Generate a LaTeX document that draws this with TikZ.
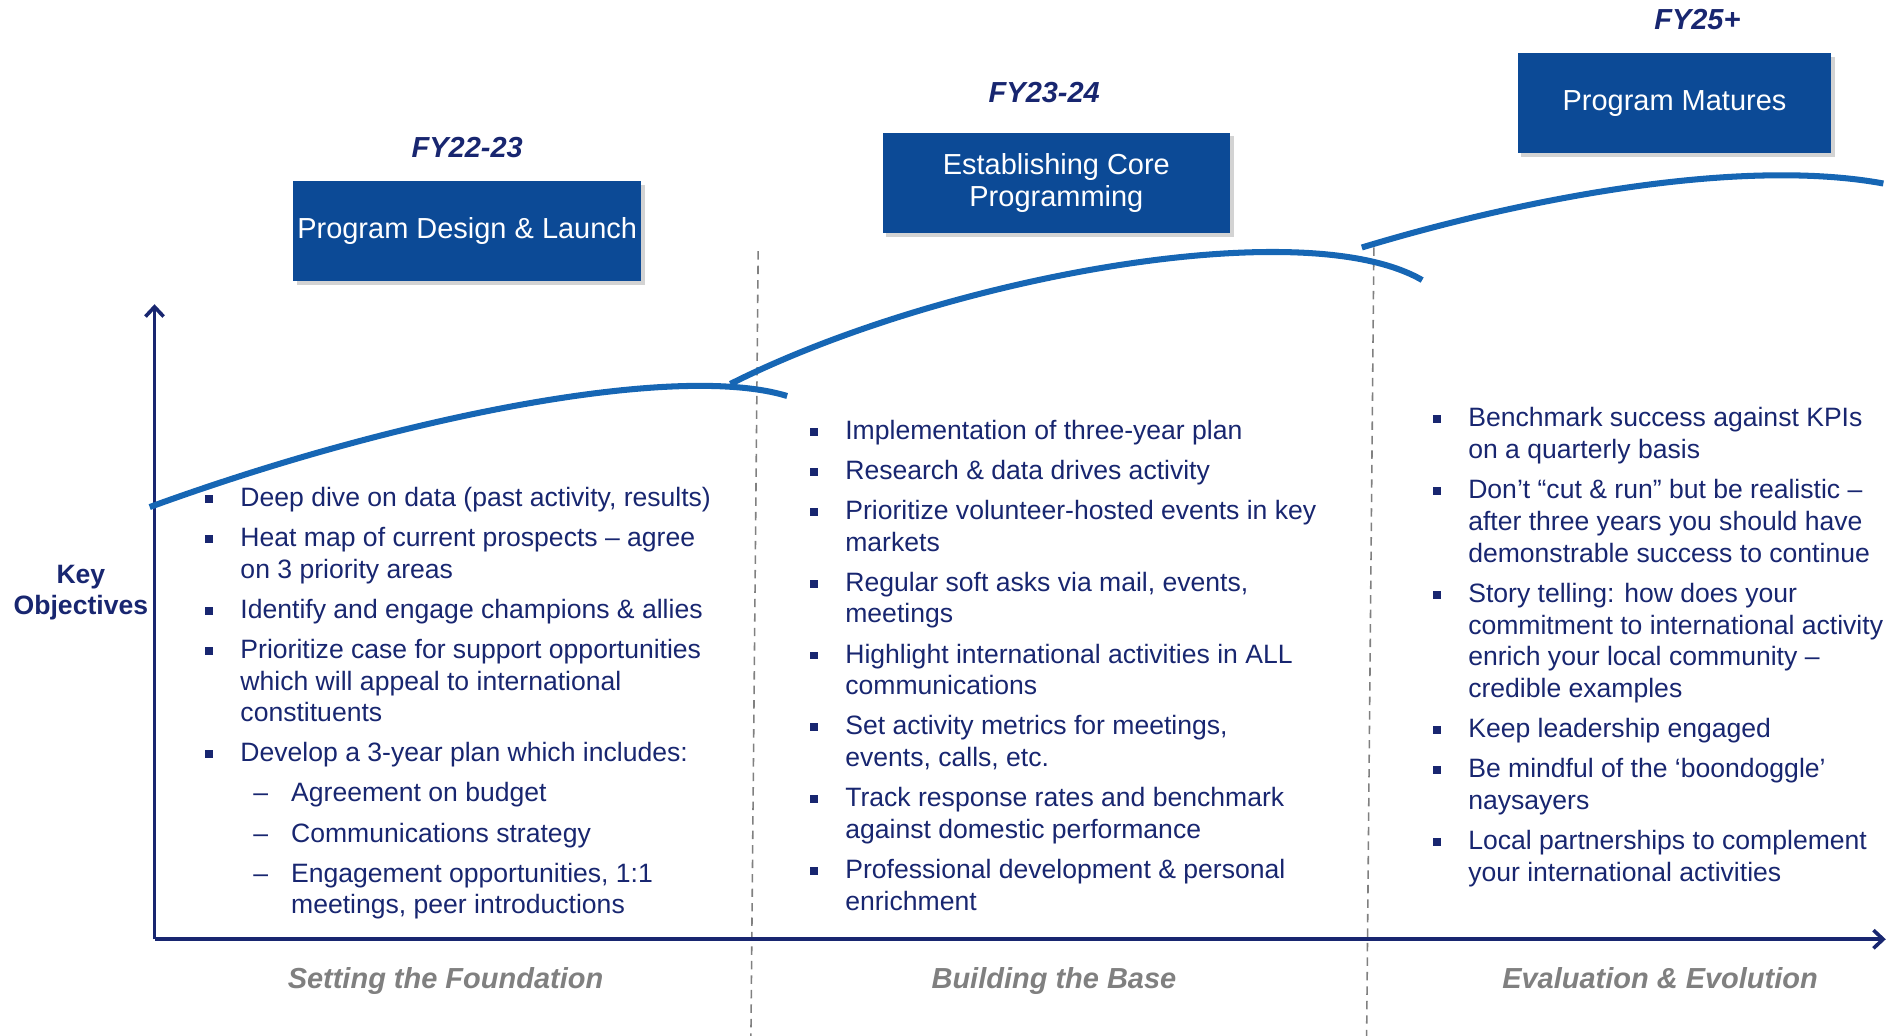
\documentclass[tikz,border=0pt]{standalone}
\usepackage{fontspec}
\setmainfont{Liberation Sans}
\usetikzlibrary{arrows.meta,shadows}

\definecolor{navy}{RGB}{24,38,112}
\definecolor{boxblue}{RGB}{12,74,150}
\definecolor{curveblue}{RGB}{22,102,180}
\definecolor{stagegray}{RGB}{128,128,128}

% bullet marks for the objective lists
\newcommand{\bul}{\llap{\rule[3pt]{6.5pt}{6.5pt}\hspace{23pt}}}
\newcommand{\subdash}{\hspace*{42pt}\llap{--\hspace{19pt}}}

\tikzset{
  phasebox/.style={rectangle, fill=boxblue, text=white, align=center,
    minimum width=288pt, minimum height=83pt, inner sep=2pt,
    font=\fontsize{24}{26.5}\selectfont,
    drop shadow={shadow xshift=3pt, shadow yshift=-3pt, opacity=0.35}},
  yearlabel/.style={text=navy, font=\fontsize{24}{28}\selectfont\bfseries\itshape},
  stagelabel/.style={anchor=base, text=stagegray, font=\fontsize{24}{28}\selectfont\bfseries\itshape},
  objlist/.style={anchor=base west, align=left, text=navy, inner sep=0pt,
    font=\fontsize{22}{26.3}\selectfont},
  growth/.style={curveblue, line width=5pt},
  divider/.style={stagegray, line width=1.3pt, dash pattern=on 7pt off 5pt},
  axisline/.style={navy, line width=3pt, -{Straight Barb[length=8pt,width=15pt]}}
}

\begin{document}
\begin{tikzpicture}[x=1pt, y=-1pt]
    \useasboundingbox (0,0) rectangle (1568,858);

    % phase dividers
    \draw[divider] (628,208) -- (622,858);
    \draw[divider] (1138,205) -- (1132,858);

    % axes
    \coordinate (origin) at (128,778);
    \coordinate (ytip) at (128,252);
    \coordinate (xtip) at (1562,778);
    \draw[axisline] (origin) -- (ytip);
    \draw[axisline] (origin) -- (xtip);

    % growth curves
    \draw[growth] (124,420) .. controls (330,345) and (560,300) .. (652,328);
    \draw[growth] (605,318) .. controls (780,230) and (1080,175) .. (1178,232);
    \draw[growth] (1128,205) .. controls (1260,165) and (1440,130) .. (1560,152);

    % phase boxes and years
    \node[phasebox] (design) at (387,191.5) {Program Design \& Launch};
    \node[phasebox] (core) at (875,151.5) {Establishing Core\\Programming};
    \node[phasebox, minimum width=260pt] (mature) at (1387,85.5) {Program Matures};
    \node[yearlabel] (fy1) at (387,122) {FY22-23};
    \node[yearlabel] (fy2) at (865,77) {FY23-24};
    \node[yearlabel] (fy3) at (1406,16) {FY25+};

    \node[text=navy, align=center, font=\fontsize{22}{26}\selectfont\bfseries] (keyobj) at (67,491) {Key\\Objectives};

    % objectives (base = last line)
    \node[objlist] (foundation) at (199,757) {%
\bul Deep dive on data (past activity, results)\\[6.9pt]
\bul Heat map of current prospects -- agree\\
on 3 priority areas\\[6.9pt]
\bul Identify and engage champions \& allies\\[6.9pt]
\bul Prioritize case for support opportunities\\
which will appeal to international\\
constituents\\[6.9pt]
\bul Develop a 3-year plan which includes:\\[6.9pt]
\subdash Agreement on budget\\[6.9pt]
\subdash Communications strategy\\[6.9pt]
\subdash Engagement opportunities, 1:1\\
\hspace*{42pt}meetings, peer introductions};

    \node[objlist] (base) at (700,754) {%
\bul Implementation of three-year plan\\[6.9pt]
\bul Research \& data drives activity\\[6.9pt]
\bul Prioritize volunteer-hosted events in key\\
markets\\[6.9pt]
\bul Regular soft asks via mail, events,\\
meetings\\[6.9pt]
\bul Highlight international activities in ALL\\
communications\\[6.9pt]
\bul Set activity metrics for meetings,\\
events, calls, etc.\\[6.9pt]
\bul Track response rates and benchmark\\
against domestic performance\\[6.9pt]
\bul Professional development \& personal\\
enrichment};

    \node[objlist] (evolution) at (1216,730) {%
\bul Benchmark success against KPIs\\
on a quarterly basis\\[6.9pt]
\bul Don't ``cut \& run'' but be realistic --\\
after three years you should have\\
demonstrable success to continue\\[6.9pt]
\bul Story telling: how does your\\
commitment to international activity\\
enrich your local community --\\
credible examples\\[6.9pt]
\bul Keep leadership engaged\\[6.9pt]
\bul Be mindful of the `boondoggle'\\
naysayers\\[6.9pt]
\bul Local partnerships to complement\\
your international activities};

    % stage names
    \node[stagelabel] (stage1) at (369,819) {Setting the Foundation};
    \node[stagelabel] (stage2) at (873,819) {Building the Base};
    \node[stagelabel] (stage3) at (1375,819) {Evaluation \& Evolution};
\end{tikzpicture}
\end{document}
